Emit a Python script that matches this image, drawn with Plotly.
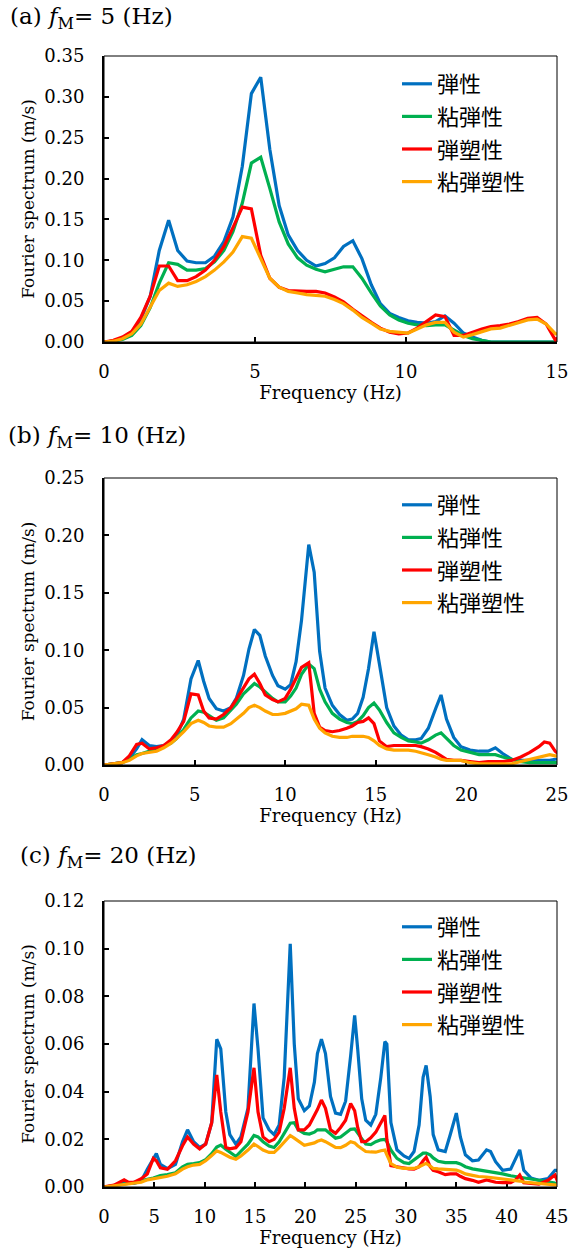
import plotly.graph_objects as go

# ---------------- data ----------------
SERIES_NAMES = ["弾性", "粘弾性", "弾塑性", "粘弾塑性"]
SERIES_COLORS = ["#0070C0", "#00B050", "#FF0000", "#FFA500"]

# (a) f_M = 5 Hz
FREQ_A = [0.00, 0.31, 0.61, 0.92, 1.22, 1.53, 1.83, 2.14, 2.44, 2.75,
          3.05, 3.36, 3.66, 3.97, 4.27, 4.58, 4.88, 5.19, 5.49, 5.80,
          6.10, 6.41, 6.71, 7.02, 7.32, 7.63, 7.93, 8.24, 8.54, 8.85,
          9.15, 9.46, 9.76, 10.07, 10.37, 10.68, 10.98, 11.29, 11.59, 11.90,
          12.20, 12.51, 12.81, 13.12, 13.42, 13.73, 14.03, 14.34, 14.64, 14.95,
          15.25]
A_ELASTIC = [0, 0.001, 0.005, 0.012, 0.028, 0.056, 0.112, 0.149, 0.112, 0.099,
             0.097, 0.097, 0.105, 0.123, 0.153, 0.215, 0.304, 0.324, 0.236, 0.167,
             0.131, 0.112, 0.100, 0.093, 0.096, 0.103, 0.117, 0.124, 0.102, 0.070,
             0.047, 0.035, 0.030, 0.026, 0.024, 0.023, 0.025, 0.032, 0.023, 0.011,
             0.006, 0.002, 0, 0, 0, 0, 0, 0, 0, 0,
             0]
A_VISCO = [0, 0.001, 0.003, 0.008, 0.020, 0.042, 0.072, 0.097, 0.095, 0.088,
           0.088, 0.090, 0.098, 0.112, 0.135, 0.170, 0.219, 0.226, 0.188, 0.147,
           0.120, 0.103, 0.094, 0.089, 0.086, 0.089, 0.092, 0.092, 0.078, 0.060,
           0.044, 0.033, 0.027, 0.023, 0.021, 0.020, 0.021, 0.021, 0.015, 0.008,
           0.004, 0.002, 0, 0, 0, 0, 0, 0, 0, 0,
           0]
A_PLASTIC = [0, 0.002, 0.006, 0.013, 0.030, 0.056, 0.093, 0.093, 0.075, 0.075,
             0.080, 0.088, 0.100, 0.117, 0.140, 0.165, 0.163, 0.106, 0.078, 0.067,
             0.063, 0.062, 0.062, 0.062, 0.060, 0.055, 0.049, 0.040, 0.032, 0.024,
             0.017, 0.012, 0.010, 0.011, 0.017, 0.025, 0.033, 0.031, 0.008, 0.008,
             0.012, 0.016, 0.019, 0.020, 0.022, 0.025, 0.029, 0.030, 0.022, 0.002,
             0.015]
A_VISCOPLASTIC = [0, 0.001, 0.004, 0.010, 0.022, 0.042, 0.063, 0.072, 0.068, 0.070,
                  0.074, 0.080, 0.088, 0.098, 0.110, 0.129, 0.127, 0.102, 0.078, 0.067,
                  0.062, 0.060, 0.058, 0.057, 0.056, 0.052, 0.047, 0.039, 0.030, 0.023,
                  0.016, 0.013, 0.012, 0.011, 0.016, 0.021, 0.024, 0.024, 0.012, 0.006,
                  0.009, 0.013, 0.016, 0.017, 0.020, 0.023, 0.027, 0.028, 0.022, 0.010,
                  0.010]

# (b) f_M = 10 Hz
FREQ_B = [0, 0.6, 1.0, 1.4, 1.8, 2.1, 2.5, 2.9, 3.3, 3.7,
          4.0, 4.4, 4.8, 5.2, 5.5, 5.8, 6.2, 6.6, 7.0, 7.3,
          7.7, 8.0, 8.3, 8.6, 8.9, 9.3, 9.6, 10.0, 10.3, 10.6,
          10.9, 11.3, 11.6, 11.9, 12.2, 12.6, 13.0, 13.4, 13.7, 14.0,
          14.3, 14.6, 14.9, 15.2, 15.6, 16.0, 16.4, 16.8, 17.2, 17.5,
          17.9, 18.3, 18.6, 18.9, 19.3, 19.7, 20.2, 20.7, 21.2, 21.6,
          22.0, 22.5, 23.0, 23.5, 24.0, 24.3, 24.6, 24.9, 25.2]
B_ELASTIC = [0, 0.001, 0.002, 0.006, 0.014, 0.022, 0.017, 0.016, 0.017, 0.020,
             0.025, 0.040, 0.075, 0.091, 0.073, 0.058, 0.049, 0.047, 0.050, 0.058,
             0.078, 0.101, 0.118, 0.113, 0.095, 0.078, 0.069, 0.066, 0.070, 0.090,
             0.126, 0.192, 0.168, 0.099, 0.067, 0.052, 0.044, 0.039, 0.040, 0.045,
             0.059, 0.084, 0.116, 0.088, 0.050, 0.034, 0.026, 0.022, 0.022, 0.023,
             0.032, 0.049, 0.061, 0.040, 0.024, 0.016, 0.013, 0.012, 0.012, 0.015,
             0.010, 0.005, 0.004, 0.004, 0.004, 0.004, 0.004, 0.005, 0.005]
B_VISCO = [0, 0.001, 0.002, 0.005, 0.009, 0.010, 0.012, 0.014, 0.016, 0.019,
           0.023, 0.031, 0.041, 0.047, 0.046, 0.043, 0.039, 0.041, 0.048, 0.053,
           0.062, 0.067, 0.071, 0.068, 0.064, 0.058, 0.055, 0.055, 0.060, 0.067,
           0.079, 0.088, 0.084, 0.066, 0.055, 0.045, 0.040, 0.037, 0.036, 0.038,
           0.043, 0.050, 0.054, 0.048, 0.037, 0.028, 0.024, 0.021, 0.020, 0.019,
           0.022, 0.026, 0.028, 0.023, 0.017, 0.013, 0.011, 0.009, 0.009, 0.009,
           0.007, 0.005, 0.003, 0.002, 0.002, 0.002, 0.002, 0.002, 0.002]
B_PLASTIC = [0, 0.001, 0.002, 0.008, 0.018, 0.019, 0.014, 0.015, 0.017, 0.022,
             0.028, 0.038, 0.062, 0.061, 0.047, 0.041, 0.040, 0.044, 0.050, 0.057,
             0.067, 0.075, 0.079, 0.071, 0.061, 0.057, 0.055, 0.058, 0.066, 0.075,
             0.085, 0.089, 0.045, 0.033, 0.030, 0.029, 0.030, 0.032, 0.034, 0.037,
             0.038, 0.041, 0.036, 0.021, 0.016, 0.017, 0.017, 0.017, 0.017, 0.016,
             0.014, 0.011, 0.008, 0.005, 0.004, 0.004, 0.003, 0.002, 0.003, 0.003,
             0.003, 0.004, 0.007, 0.011, 0.016, 0.020, 0.019, 0.012, 0.008]
B_VISCOPLASTIC = [0, 0.001, 0.002, 0.004, 0.008, 0.010, 0.011, 0.012, 0.015, 0.019,
                  0.023, 0.029, 0.036, 0.039, 0.037, 0.034, 0.033, 0.033, 0.036, 0.040,
                  0.045, 0.050, 0.052, 0.050, 0.047, 0.044, 0.044, 0.045, 0.047, 0.049,
                  0.053, 0.052, 0.040, 0.032, 0.028, 0.025, 0.024, 0.024, 0.025, 0.025,
                  0.025, 0.024, 0.021, 0.017, 0.014, 0.013, 0.013, 0.013, 0.012, 0.011,
                  0.009, 0.007, 0.005, 0.004, 0.004, 0.004, 0.002, 0.001, 0.001, 0.001,
                  0.001, 0.001, 0.003, 0.005, 0.007, 0.008, 0.009, 0.008, 0.007]

# (c) f_M = 20 Hz
FREQ_C = [0, 1.0, 2.0, 2.4, 3.0, 3.7, 4.3, 4.9, 5.2, 5.6,
          6.3, 7.1, 7.8, 8.3, 8.9, 9.5, 10.1, 10.7, 11.2, 11.6,
          12.1, 12.5, 13.1, 13.6, 14.3, 14.9, 15.3, 15.8, 16.4, 16.9,
          17.4, 17.9, 18.5, 18.9, 19.3, 19.9, 20.4, 20.9, 21.2, 21.6,
          22.0, 22.5, 23.0, 23.5, 24.0, 24.5, 24.9, 25.2, 25.6, 26.0,
          26.5, 27.0, 27.5, 27.9, 28.1, 28.5, 29.1, 29.8, 30.3, 30.8,
          31.3, 31.7, 32.0, 32.4, 32.7, 33.2, 33.9, 34.4, 35.0, 35.4,
          35.9, 36.6, 37.2, 38.0, 38.4, 38.9, 39.6, 40.4, 40.9, 41.3,
          41.7, 42.4, 43.2, 44.1, 44.8, 45.2]
C_ELASTIC = [0, 0.0005, 0.002, 0.0015, 0.0015, 0.0025, 0.0074, 0.012, 0.014, 0.0095,
             0.0077, 0.0095, 0.019, 0.024, 0.019, 0.0166, 0.018, 0.027, 0.062, 0.058,
             0.0315, 0.022, 0.018, 0.021, 0.033, 0.077, 0.058, 0.029, 0.024, 0.022,
             0.026, 0.046, 0.102, 0.060, 0.037, 0.032, 0.034, 0.044, 0.056, 0.062,
             0.056, 0.038, 0.031, 0.0305, 0.036, 0.055, 0.072, 0.058, 0.037, 0.028,
             0.026, 0.0305, 0.046, 0.061, 0.060, 0.027, 0.0156, 0.013, 0.012, 0.0149,
             0.026, 0.046, 0.051, 0.038, 0.022, 0.0156, 0.0149, 0.022, 0.031, 0.021,
             0.0135, 0.011, 0.0113, 0.0156, 0.0149, 0.0106, 0.007, 0.0075, 0.012, 0.0156,
             0.007, 0.0038, 0.0028, 0.0035, 0.007, 0.007]
C_VISCO = [0, 0.0005, 0.0012, 0.0015, 0.002, 0.0025, 0.0032, 0.0038, 0.0042, 0.0048,
           0.0052, 0.006, 0.0085, 0.0095, 0.0098, 0.0102, 0.0115, 0.014, 0.0168, 0.0176,
           0.0158, 0.0145, 0.0128, 0.015, 0.018, 0.0216, 0.021, 0.019, 0.0172, 0.0166,
           0.019, 0.0225, 0.0268, 0.027, 0.024, 0.0225, 0.0222, 0.023, 0.024, 0.024,
           0.024, 0.0222, 0.0205, 0.021, 0.0228, 0.0242, 0.0244, 0.0225, 0.0205, 0.018,
           0.0178, 0.019, 0.0198, 0.020, 0.019, 0.0155, 0.012, 0.0102, 0.0098, 0.0113,
           0.0128, 0.0142, 0.0142, 0.0135, 0.0122, 0.0108, 0.0102, 0.0102, 0.0102, 0.0097,
           0.0085, 0.0076, 0.0072, 0.0068, 0.0065, 0.006, 0.0055, 0.0047, 0.0044, 0.0042,
           0.0038, 0.0033, 0.0028, 0.0022, 0.0016, 0.0014]
C_PLASTIC = [0, 0.0008, 0.003, 0.002, 0.002, 0.0035, 0.0055, 0.012, 0.011, 0.008,
             0.0074, 0.011, 0.0173, 0.021, 0.018, 0.016, 0.018, 0.027, 0.047, 0.0315,
             0.0166, 0.016, 0.0165, 0.019, 0.0315, 0.050, 0.0315, 0.021, 0.019, 0.020,
             0.023, 0.033, 0.050, 0.033, 0.024, 0.024, 0.026, 0.030, 0.0325, 0.0365,
             0.033, 0.024, 0.0225, 0.025, 0.028, 0.035, 0.032, 0.025, 0.019, 0.019,
             0.0206, 0.023, 0.027, 0.030, 0.020, 0.009, 0.0085, 0.0078, 0.0076, 0.0075,
             0.0085, 0.011, 0.0125, 0.0085, 0.007, 0.0064, 0.0052, 0.0055, 0.0055, 0.0045,
             0.0035, 0.0028, 0.002, 0.003, 0.0025, 0.002, 0.0018, 0.0018, 0.003, 0.005,
             0.0018, 0.0015, 0.0012, 0.0028, 0.005, 0.001]
C_VISCOPLASTIC = [0, 0.0005, 0.001, 0.0012, 0.0015, 0.002, 0.003, 0.0034, 0.0038, 0.0042,
                  0.0045, 0.0055, 0.0075, 0.0085, 0.0092, 0.0095, 0.011, 0.0132, 0.0152, 0.0145,
                  0.0132, 0.0125, 0.0116, 0.013, 0.0155, 0.018, 0.017, 0.0155, 0.0145, 0.0145,
                  0.0165, 0.019, 0.0216, 0.0205, 0.0192, 0.0175, 0.018, 0.0185, 0.0192, 0.0197,
                  0.019, 0.0178, 0.0166, 0.0165, 0.0175, 0.019, 0.0185, 0.0173, 0.016, 0.0149,
                  0.0147, 0.0146, 0.0152, 0.0155, 0.0135, 0.0098, 0.0083, 0.0078, 0.0078, 0.0078,
                  0.0085, 0.0095, 0.0099, 0.0088, 0.0078, 0.0076, 0.0075, 0.0073, 0.0071, 0.0065,
                  0.0055, 0.0049, 0.0044, 0.0042, 0.004, 0.0038, 0.0035, 0.0031, 0.0028, 0.0025,
                  0.0021, 0.0018, 0.0015, 0.0012, 0.0008, 0.0007]

PANEL_TITLES = ["(a) <i>f</i><sub>M</sub>= 5 (Hz)",
                "(b) <i>f</i><sub>M</sub>= 10 (Hz)",
                "(c) <i>f</i><sub>M</sub>= 20 (Hz)"]
X_TITLE = "Frequency (Hz)"
Y_TITLE = "Fourier spectrum (m/s)"

X_TICKS_A = [0, 5, 10, 15]
X_TICKS_B = [0, 5, 10, 15, 20, 25]
X_TICKS_C = [0, 5, 10, 15, 20, 25, 30, 35, 40, 45]
Y_TICKS_A = [0.00, 0.05, 0.10, 0.15, 0.20, 0.25, 0.30, 0.35]
Y_TICKS_B = [0.00, 0.05, 0.10, 0.15, 0.20, 0.25]
Y_TICKS_C = [0.00, 0.02, 0.04, 0.06, 0.08, 0.10, 0.12]

# ---------------- figure ----------------
W, H = 570, 1250
SERIF = "DejaVu Serif"
CJK = "Noto Sans CJK JP"

panels = [
    dict(freq=FREQ_A, series=[A_ELASTIC, A_VISCO, A_PLASTIC, A_VISCOPLASTIC],
         xt=X_TICKS_A, yt=Y_TICKS_A, top=56, bottom=342, title_x=8, title_y=18, leg_top=63),
    dict(freq=FREQ_B, series=[B_ELASTIC, B_VISCO, B_PLASTIC, B_VISCOPLASTIC],
         xt=X_TICKS_B, yt=Y_TICKS_B, top=478, bottom=765, title_x=6, title_y=437, leg_top=484),
    dict(freq=FREQ_C, series=[C_ELASTIC, C_VISCO, C_PLASTIC, C_VISCOPLASTIC],
         xt=X_TICKS_C, yt=Y_TICKS_C, top=901, bottom=1187, title_x=18, title_y=857, leg_top=906),
]

fig = go.Figure()
layout = dict(width=W, height=H, autosize=False,
              margin=dict(l=0, r=0, t=0, b=0),
              paper_bgcolor="white", plot_bgcolor="white",
              font=dict(family=SERIF, color="black"),
              shapes=[], annotations=[])

X0, X1 = 104 / W, 557 / W

for i, p in enumerate(panels):
    n = "" if i == 0 else str(i + 1)
    legend_key = "legend" + n
    for name, color, vals in zip(SERIES_NAMES, SERIES_COLORS, p["series"]):
        fig.add_trace(go.Scatter(
            x=p["freq"], y=vals, mode="lines", name=name,
            line=dict(color=color, width=3.2),
            xaxis="x" + n, yaxis="y" + n,
            legend=legend_key, legendgroup=f"{i}-{name}",
            hoverinfo="skip"))

    ydom = [1 - p["bottom"] / H, 1 - p["top"] / H]
    layout["xaxis" + n] = dict(
        domain=[X0, X1], anchor="y" + n, range=[0, p["xt"][-1]],
        tickvals=p["xt"], ticktext=[str(v) for v in p["xt"]],
        ticks="inside", ticklen=5, tickwidth=1.5, tickcolor="black",
        showline=True, linewidth=2, linecolor="black", mirror=False,
        showgrid=False, zeroline=False, layer="below traces",
        tickfont=dict(family=SERIF, size=18, color="black"),
        ticklabelstandoff=12,
        title=dict(text=X_TITLE, font=dict(family=SERIF, size=18, color="black"), standoff=2),
        automargin=False, fixedrange=True)
    yfmt = [f"{v:.2f}" for v in p["yt"]]
    layout["yaxis" + n] = dict(
        domain=ydom, anchor="x" + n, range=[0, p["yt"][-1]],
        tickvals=p["yt"], ticktext=yfmt,
        ticks="inside", ticklen=5, tickwidth=1.5, tickcolor="black",
        showline=True, linewidth=2, linecolor="black", mirror=False,
        showgrid=False, zeroline=False, layer="below traces",
        tickfont=dict(family=SERIF, size=18, color="black"),
        ticklabelstandoff=14,
        title=dict(text=Y_TITLE, font=dict(family=SERIF, size=17, color="black"), standoff=5),
        automargin=False, fixedrange=True)
    layout["shapes"].append(dict(
        type="rect", xref=("x" + n) + " domain", yref=("y" + n) + " domain",
        x0=0, x1=1, y0=0, y1=1, line=dict(color="black", width=1), layer="above"))
    layout["annotations"].append(dict(
        text=PANEL_TITLES[i], xref="paper", yref="paper",
        x=p["title_x"] / W, y=1 - p["title_y"] / H, xanchor="left", yanchor="middle",
        showarrow=False, font=dict(family=SERIF, size=23, color="black")))
    layout[legend_key] = dict(
        x=397 / W, y=1 - p["leg_top"] / H, xanchor="left", yanchor="top",
        bgcolor="rgba(0,0,0,0)", borderwidth=0,
        font=dict(family=CJK, size=22, color="black"),
        tracegroupgap=1, itemclick=False, itemdoubleclick=False)

fig.update_layout(**layout)
fig.write_html(
    "out.html",
    config={"displayModeBar": False},
    post_script="document.body.style.margin='0';document.body.style.overflow='hidden';")
